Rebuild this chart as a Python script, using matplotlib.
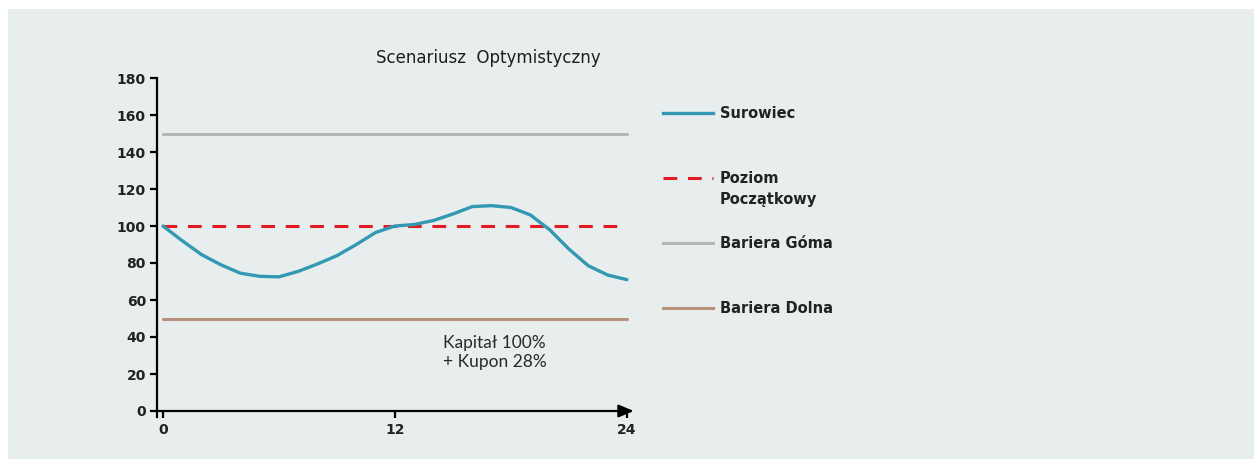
import matplotlib
matplotlib.use("Agg")
import matplotlib.pyplot as plt
from matplotlib.lines import Line2D
from matplotlib.patches import Rectangle

# ---- data ----
months = list(range(0, 25))
surowiec = [100, 92, 84.5, 79, 74.5, 72.8, 72.5, 75.5, 79.5, 84, 90, 96.5, 100,
            100.8, 103, 106.5, 110.5, 111, 110, 106, 98, 87.5, 78.5, 73.5, 71]
poziom_poczatkowy = 100
bariera_gorna = 150
bariera_dolna = 50
x_ticks = [0, 12, 24]
y_ticks = [0, 20, 40, 60, 80, 100, 120, 140, 160, 180]
title = "Scenariusz  Optymistyczny"
legend_labels = ["Surowiec", "Poziom\nPoczątkowy", "Bariera Góma", "Bariera Dolna"]
annotation = "Kapitał 100%\n+ Kupon 28%"

C_TEAL = "#3399b3"
C_RED = "#e31b23"
C_GRAY = "#b3b8b4"
C_BROWN = "#b8917a"
BG = "#e8eded"

W, H = 1254, 459
fig = plt.figure(figsize=(W / 100, H / 100), dpi=100, facecolor="white")
fig.add_artist(Rectangle((8 / W, 0), 1 - 8 / W, 1 - 9 / H, transform=fig.transFigure,
                         facecolor=BG, edgecolor="none", zorder=-10))

x0 = 157 / W
ax = fig.add_axes([x0, (H - 411) / H, (632 - 157) / W, (411 - 78) / H])
ax.set_facecolor("none")
ax.set_xlim(-0.31, 24.26)
ax.set_ylim(0, 180)

ax.plot([0, 24], [bariera_gorna] * 2, color=C_GRAY, lw=2.2, solid_capstyle="round")
ax.plot([0, 24], [bariera_dolna] * 2, color=C_BROWN, lw=2.2, solid_capstyle="round")
ax.plot([0, 23.5], [poziom_poczatkowy] * 2, color=C_RED, lw=2.2, dashes=(4.5, 3.5))
ax.plot(months, surowiec, color=C_TEAL, lw=2.4, solid_capstyle="round", solid_joinstyle="round")

for s in ["top", "right", "bottom"]:
    ax.spines[s].set_visible(False)
ax.spines["left"].set_linewidth(1.6)
ax.spines["left"].set_bounds(-3, 180)
ax.annotate("", xy=(24.35, 0), xytext=(-0.35, 0), xycoords="data",
            arrowprops=dict(arrowstyle="-|>,head_length=0.9,head_width=0.38",
                            color="black", lw=1.6, shrinkA=0, shrinkB=0),
            annotation_clip=False)

ax.set_xticks(x_ticks)
ax.set_yticks(y_ticks)
ax.tick_params(axis="both", length=5, width=1.6, labelsize=10, color="black")
ax.tick_params(axis="y", pad=3)
ax.tick_params(axis="x", pad=4)
for lab in ax.get_xticklabels() + ax.get_yticklabels():
    lab.set_fontweight("bold")
    lab.set_color("#222222")

ax.text(14.5, 41.0, annotation, fontsize=12.5, family="Lato", fontweight="normal",
        color="#2a2a2a", va="top", ha="left", linespacing=1.2)

fig.text(488 / W, 1 - 58 / H, title, ha="center", va="center", fontsize=12, color="#1e1e1e")

# legend (manual)
leg_y = [113, 178, 243, 308]
styles = [dict(color=C_TEAL, lw=2.4), dict(color=C_RED, lw=2.2, dashes=(4.5, 3.5)),
          dict(color=C_GRAY, lw=2.2), dict(color=C_BROWN, lw=2.2)]
for yy, lab, st in zip(leg_y, legend_labels, styles):
    yf = 1 - yy / H
    fig.add_artist(Line2D([663 / W, 713 / W], [yf, yf], transform=fig.transFigure, **st))
    fig.text(720 / W, yf + 7 / H, lab, ha="left", va="top", fontsize=10.5,
             fontweight="semibold", color="#222222", linespacing=1.5)

fig.savefig("out.png", dpi=100, facecolor="white")
